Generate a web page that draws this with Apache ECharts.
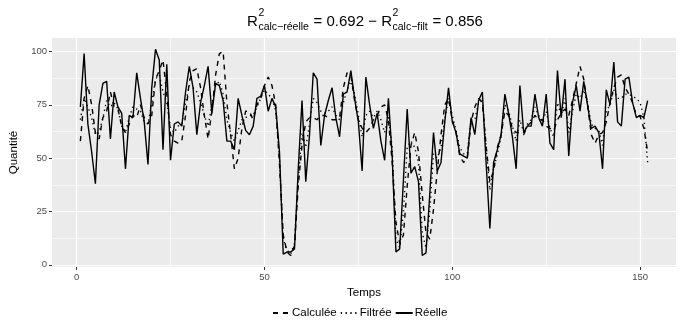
<!DOCTYPE html>
<html>
<head>
<meta charset="utf-8">
<script src="https://cdn.jsdelivr.net/npm/echarts@6/dist/echarts.min.js"></script>
<style>
  html, body { margin: 0; padding: 0; background: #fff; }
  #chart { width: 682px; height: 325px; }
</style>
</head>
<body>
<div id="chart"></div>
<script>
// time index 1..152
const temps = Array.from({ length: 152 }, (_, i) => i + 1);

const reelle = [
  74, 99, 66, 53, 38, 75, 85, 86, 59, 81, 74, 71, 45, 70, 69, 90, 78, 67, 47, 83,
  101, 96, 54, 94, 49, 66, 67, 65, 81, 93, 83, 61, 76, 84, 93, 71, 85, 84, 77, 58,
  58, 54, 78, 70, 63, 61, 65, 78, 79, 84, 72, 78, 74, 53, 5, 6, 6, 7.5, 45, 77,
  39, 61, 90, 87, 56, 70, 77, 83, 69, 60, 80, 81, 91, 78, 67, 44, 88, 75, 64, 71,
  58, 49, 78, 51, 6, 7.5, 40, 73, 43, 46, 39, 4.4, 5.6, 33, 62, 44, 48, 67, 83, 67,
  62, 52, 51, 50, 69, 61, 77, 81, 48, 17, 48, 54, 61, 80, 71, 60, 45, 84, 62, 65,
  65, 80, 69, 65, 80, 57, 54, 91, 69, 87, 51, 76, 84, 72, 86, 75, 64, 65, 62, 45,
  82, 75, 95, 67, 65, 87, 88, 76, 69, 70, 69, 77
];

const calculee = [
  58, 78, 84, 75, 62, 59, 69, 72, 81, 74, 73, 65, 62, 66, 70, 69, 75, 69, 66, 70,
  87, 91, 96, 80, 61, 58, 57, 58, 70, 86, 91, 92, 83, 70, 59, 72, 89, 99, 100, 76,
  61, 45, 50, 64, 72, 72, 68, 75, 78, 84, 88, 84, 75, 47, 14, 6, 4.4, 9, 37, 56,
  67, 69, 69, 68, 70, 70, 69, 68, 68, 69, 83, 90, 89, 77, 68, 64, 62, 64, 68, 70,
  74, 75, 68, 48, 20, 10, 14, 37, 56, 62, 53, 33, 15, 12, 26, 44, 61, 75, 78, 68,
  62, 51, 48, 50, 67, 74, 78, 76, 56, 39, 44, 55, 61, 72, 70, 64, 62, 62, 61, 65,
  67, 70, 68, 68, 65, 64, 63, 68, 71, 73, 70, 77, 85, 93, 87, 75, 61, 57, 61, 62,
  67, 76, 83, 88, 89, 83, 80, 76, 70, 69.5, 64, 53
];

const filtree = [
  68, 78, 74, 69, 61, 62, 69, 77, 74, 76, 73, 65, 62, 69, 74, 73, 72, 67, 66, 76,
  87, 89, 81, 76, 64, 62, 65, 66, 76, 84, 83, 81, 76, 70, 65, 75, 84, 86, 80, 68,
  62, 58, 63, 68, 69, 70, 70, 74, 78, 82, 80, 78, 72, 50, 12, 7, 5, 10, 40, 62,
  55, 66, 78, 76, 72, 71, 72, 74, 70, 68, 76, 82, 86, 80, 70, 60, 70, 72, 69, 72,
  68, 62, 70, 55, 12, 8, 25, 55, 58, 55, 48, 15, 8, 25, 52, 50, 55, 68, 78, 70,
  63, 55, 52, 52, 68, 68, 76, 78, 55, 35, 45, 52, 60, 75, 72, 65, 58, 68, 62, 66,
  68, 74, 70, 67, 72, 64, 60, 76, 70, 78, 62, 72, 80, 78, 82, 76, 66, 64, 63, 56,
  72, 75, 82, 78, 78, 80, 80, 79, 78, 76, 69, 48
];

const xMajor = [0, 50, 100, 150];
const xMinor = [25, 75, 125];
const yMajor = [0, 25, 50, 75, 100];
const yMinor = [12.5, 37.5, 62.5, 87.5];
const xRange = [-6.55, 159.55];
const yRange = [-1, 106.3];

const seriesNames = ['Calculée', 'Filtrée', 'Réelle'];

const chart = echarts.init(document.getElementById('chart'), null, { renderer: 'canvas' });

const FONT = '"Liberation Sans", Arial, sans-serif';
const gridLine = (w) => ({ show: true, lineStyle: { color: '#ffffff', width: w } });

// title pieces: plotmath style R^2_sub
function titleElements() {
  const ctx = document.createElement('canvas').getContext('2d');
  const big = 15, small = 10.5;
  const measure = (t, s) => { ctx.font = s + 'px ' + FONT; return ctx.measureText(t).width; };
  const parts = [
    { kind: 'txt', text: 'R' },
    { kind: 'sub', sup: '2', sub: 'calc\u2212réelle' },
    { kind: 'txt', text: ' = 0.692 \u2212 ' },
    { kind: 'txt', text: 'R' },
    { kind: 'sub', sup: '2', sub: 'calc\u2212filt' },
    { kind: 'txt', text: ' = 0.856' }
  ];
  let total = 0;
  parts.forEach(p => {
    p.w = p.kind === 'txt' ? measure(p.text, big) : Math.max(measure(p.sup, small), measure(p.sub, small)) + 1;
    total += p.w;
  });
  let x = 365 - total / 2;
  const els = [];
  parts.forEach(p => {
    if (p.kind === 'txt') {
      els.push({ type: 'text', x: x, y: 29, style: { text: p.text, font: big + 'px ' + FONT, fill: '#000', textVerticalAlign: 'bottom' } });
    } else {
      els.push({ type: 'text', x: x + 0.5, y: 19, style: { text: p.sup, font: small + 'px ' + FONT, fill: '#000', textVerticalAlign: 'bottom' } });
      els.push({ type: 'text', x: x + 0.5, y: 33, style: { text: p.sub, font: small + 'px ' + FONT, fill: '#000', textVerticalAlign: 'bottom' } });
    }
    x += p.w;
  });
  return els;
}

const lineSeries = (name, values, type) => ({
  name: name,
  type: 'line',
  xAxisIndex: 0,
  yAxisIndex: 0,
  symbol: 'none',
  animation: false,
  data: temps.map((t, i) => [t, values[i]]),
  lineStyle: { color: '#000', width: 1.4, type: type },
  itemStyle: { color: '#000' },
  z: 3
});

const minorAxis = (range, minor) => ({
  type: 'value', min: range[0], max: range[1], gridIndex: 0,
  axisLine: { show: false, onZero: false },
  axisTick: { show: false, customValues: minor },
  axisLabel: { show: false },
  splitLine: gridLine(0.6)
});

chart.setOption({
  backgroundColor: '#ffffff',
  animation: false,
  textStyle: { fontFamily: FONT },
  grid: { left: 52, right: 6, top: 38, bottom: 58, show: true, backgroundColor: '#EBEBEB', borderWidth: 0 },
  graphic: titleElements(),
  legend: {
    data: seriesNames,
    bottom: 1,
    left: 267,
    itemWidth: 17,
    itemHeight: 12,
    itemGap: 3,
    itemStyle: { opacity: 0 },
    textStyle: { fontSize: 11.5, color: '#000', fontFamily: FONT, padding: [0, 0, 0, -3] }
  },
  xAxis: [
    {
      type: 'value', min: xRange[0], max: xRange[1],
      name: 'Temps', nameLocation: 'middle', nameGap: 18,
      nameTextStyle: { fontSize: 11.5, color: '#000', fontFamily: FONT },
      axisLine: { show: false, onZero: false },
      axisTick: { show: true, length: 3, customValues: xMajor, lineStyle: { color: '#333333', width: 1 } },
      axisLabel: { customValues: xMajor, color: '#4D4D4D', fontSize: 9.5, margin: 5, fontFamily: FONT },
      splitLine: gridLine(1.2)
    },
    minorAxis(xRange, xMinor)
  ],
  yAxis: [
    {
      type: 'value', min: yRange[0], max: yRange[1],
      name: 'Quantité', nameLocation: 'middle', nameGap: 26, nameRotate: 90,
      nameTextStyle: { fontSize: 11.5, color: '#000', fontFamily: FONT },
      axisLine: { show: false, onZero: false },
      axisTick: { show: true, length: 3, customValues: yMajor, lineStyle: { color: '#333333', width: 1 } },
      axisLabel: { customValues: yMajor, color: '#4D4D4D', fontSize: 9.5, margin: 5, fontFamily: FONT },
      splitLine: gridLine(1.2)
    },
    minorAxis(yRange, yMinor)
  ],
  series: [
    lineSeries('Calculée', calculee, [5, 5]),
    lineSeries('Filtrée', filtree, [1.3, 3.5]),
    lineSeries('Réelle', reelle, 'solid')
  ]
});
</script>
</body>
</html>
